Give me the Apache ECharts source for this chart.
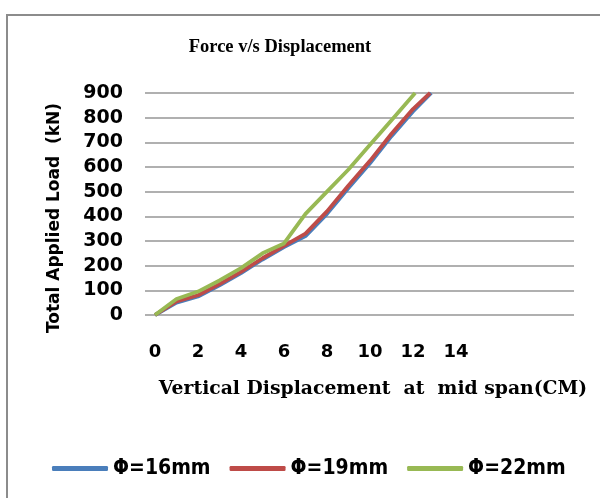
<!DOCTYPE html>
<html><head><meta charset="utf-8">
<script src="https://cdn.jsdelivr.net/npm/echarts@6/dist/echarts.min.js"></script>
<style>html,body{margin:0;padding:0;background:#fff}#c{width:600px;height:498px}</style>
</head><body><div id="c"></div>
<script>
const seriesNames = ['Φ=16mm', 'Φ=19mm', 'Φ=22mm'];
const x16 = [0, 1, 2, 3, 4, 5, 6, 7, 8, 9, 10, 11, 12, 12.85];
const y16 = [0, 50, 75, 120, 170, 225, 275, 320, 410, 515, 615, 725, 825, 900];
const x19 = [0, 1, 2, 3, 4, 5, 6, 7, 8, 9, 10, 11, 12, 12.8];
const y19 = [0, 55, 80, 125, 175, 230, 280, 330, 420, 525, 625, 735, 835, 900];
const x22 = [0, 1, 2, 3, 4, 5, 6, 7, 8, 9, 10, 11, 12.1];
const y22 = [0, 65, 95, 140, 190, 250, 290, 410, 500, 590, 690, 790, 900];
const xTicks = [0, 2, 4, 6, 8, 10, 12, 14];
const yTicks = [0, 100, 200, 300, 400, 500, 600, 700, 800, 900];
const colors = ['#4A7EBB', '#BE4B48', '#98B954'];

const pairs = (xs, ys) => xs.map((x, i) => [x, ys[i]]);
const chart = echarts.init(document.getElementById('c'));
const tickFont = {fontFamily: 'DejaVu Sans', fontWeight: 'bold', fontSize: 18, color: '#000'};
chart.setOption({
  animation: false,
  color: colors,
  grid: {left: 145, right: 26, top: 93, bottom: 183},
  xAxis: {
    type: 'value', min: -0.465, max: 19.49,
    axisLine: {show: false}, axisTick: {show: false}, splitLine: {show: false},
    axisLabel: Object.assign({customValues: xTicks, margin: 28}, tickFont)
  },
  yAxis: {
    type: 'value', min: 0, max: 900, interval: 100,
    axisLine: {show: false}, axisTick: {show: false},
    splitLine: {show: true, lineStyle: {color: '#b0b0b0', width: 2}},
    axisLabel: Object.assign({margin: 22, customValues: yTicks}, tickFont, {fontSize: 19})
  },
  legend: {
    left: 47, top: 453, itemWidth: 56, itemHeight: 5, itemGap: 19, icon: 'roundRect',
    textStyle: {fontFamily: 'DejaVu Sans Condensed', fontWeight: 'bold', fontSize: 21, color: '#000'},
    data: seriesNames
  },
  series: [
    {name: seriesNames[0], type: 'line', symbol: 'none', lineStyle: {width: 3.8}, data: pairs(x16, y16)},
    {name: seriesNames[1], type: 'line', symbol: 'none', lineStyle: {width: 3.8}, data: pairs(x19, y19)},
    {name: seriesNames[2], type: 'line', symbol: 'none', lineStyle: {width: 3.8}, data: pairs(x22, y22)}
  ],
  graphic: [
    {type: 'polyline', shape: {points: [[7, 498], [7, 15], [600, 15]]}, style: {stroke: '#8c8c8c', lineWidth: 2, fill: null}},
    {type: 'text', x: 280, y: 47, style: {text: 'Force v/s Displacement', font: 'bold 18.5px "Liberation Serif"', fill: '#000', align: 'center', verticalAlign: 'middle'}},
    {type: 'text', x: 55, y: 218, rotation: Math.PI / 2, style: {text: 'Total Applied Load  (kN)', font: 'bold 17px "DejaVu Sans"', fill: '#000', align: 'center', verticalAlign: 'middle'}},
    {type: 'text', x: 373, y: 389, style: {text: 'Vertical Displacement  at  mid span(CM)', font: 'bold 18.8px "DejaVu Serif"', fill: '#000', align: 'center', verticalAlign: 'middle'}}
  ]
});
</script></body></html>
